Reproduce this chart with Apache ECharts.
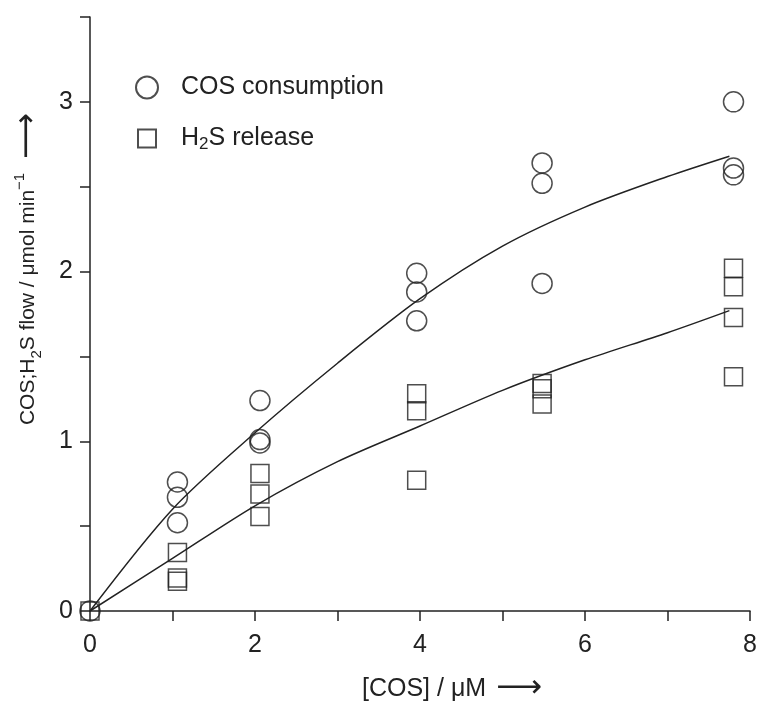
<!DOCTYPE html>
<html>
<head>
<meta charset="utf-8">
<script src="https://cdn.jsdelivr.net/npm/echarts@6/dist/echarts.min.js"></script>
<style>
  html, body { margin: 0; padding: 0; background: #fff; }
  #chart { width: 761px; height: 710px; }
</style>
</head>
<body>
<div id="chart"></div>
<script>
// measured points
var cosPoints = [
  [0, 0],
  [1.06, 0.76], [1.06, 0.67], [1.06, 0.52],
  [2.06, 1.24], [2.06, 1.01], [2.06, 0.99],
  [3.96, 1.99], [3.96, 1.88], [3.96, 1.71],
  [5.48, 2.64], [5.48, 2.52], [5.48, 1.93],
  [7.8, 3.0], [7.8, 2.61], [7.8, 2.57]
];
var h2sPoints = [
  [0, 0],
  [1.06, 0.345], [1.06, 0.195], [1.06, 0.175],
  [2.06, 0.81], [2.06, 0.69], [2.06, 0.557],
  [3.96, 1.28], [3.96, 1.18], [3.96, 0.77],
  [5.48, 1.34], [5.48, 1.31], [5.48, 1.22],
  [7.8, 2.02], [7.8, 1.91], [7.8, 1.73], [7.8, 1.38]
];
// fitted curves
var cosFit = [[0, 0], [1, 0.6], [2, 1.05], [3, 1.46], [4, 1.84], [5, 2.15], [6, 2.38], [7, 2.56], [7.75, 2.68]];
var h2sFit = [[0, 0], [1, 0.31], [2, 0.62], [3, 0.88], [4, 1.09], [5, 1.3], [6, 1.48], [7, 1.64], [7.75, 1.77]];

var xTicks = [0, 1, 2, 3, 4, 5, 6, 7, 8];
var xLabels = [0, 2, 4, 6, 8];
var yTicks = [0, 0.5, 1, 1.5, 2, 2.5, 3, 3.5];
var yLabels = [0, 1, 2, 3];

var ink = '#222';
var font = 'Liberation Sans';

var myChart = echarts.init(document.getElementById('chart'));
var option = {
  animation: false,
  textStyle: { fontFamily: font, color: ink },
  grid: { left: 90, right: 11, top: 17, bottom: 94 },
  legend: {
    orient: 'vertical',
    left: 130,
    top: 70,
    itemWidth: 22,
    itemHeight: 22,
    itemGap: 26,
    data: [
      { name: 'cos', icon: 'circle' },
      { name: 'h2s', icon: 'path://M0,0M2,2L20,2L20,20L2,20Z M22,22' }
    ],
    formatter: function (name) {
      return name === 'cos' ? '{a|COS consumption}' : '{a|H}{s|2}{a|S release}';
    },
    textStyle: {
      padding: [0, 0, 0, 18],
      rich: {
        a: { fontSize: 25, fontFamily: font, color: ink, lineHeight: 28 },
        s: { fontSize: 17, fontFamily: font, color: ink, verticalAlign: 'bottom', lineHeight: 20 }
      }
    }
  },
  xAxis: {
    type: 'value',
    min: 0,
    max: 8,
    interval: 1,
    name: '{a|[COS] / μM}{r|⟶}',
    nameLocation: 'middle',
    nameGap: 62,
    nameTextStyle: {
      padding: [0, 0, 0, 64],
      rich: {
        a: { fontSize: 25, fontFamily: font, color: ink },
        r: { fontSize: 32, fontFamily: 'DejaVu Sans', color: ink, padding: [0, 0, 0, 10] }
      }
    },
    axisLine: { lineStyle: { color: ink, width: 1.5 } },
    axisTick: { length: 10, lineStyle: { color: ink, width: 1.5 }, customValues: xTicks },
    axisLabel: { fontSize: 25, color: ink, margin: 22, customValues: xLabels },
    splitLine: { show: false }
  },
  yAxis: {
    type: 'value',
    min: 0,
    max: 3.5,
    interval: 0.5,
    name: '{a|COS;H}{s|2}{a|S flow / μmol min}{p|−1}{r|⟶}',
    nameLocation: 'middle',
    nameGap: 46,
    nameTextStyle: {
      padding: [0, 0, 0, 90],
      rich: {
        a: { fontSize: 21, fontFamily: font, color: ink, lineHeight: 28 },
        s: { fontSize: 15, fontFamily: font, color: ink, verticalAlign: 'bottom', lineHeight: 20 },
        p: { fontSize: 15, fontFamily: font, color: ink, verticalAlign: 'top', lineHeight: 20 },
        r: { fontSize: 32, fontFamily: 'DejaVu Sans', color: ink, padding: [0, 0, 0, 14] }
      }
    },
    axisLine: { show: true, lineStyle: { color: ink, width: 1.5 } },
    axisTick: { show: true, length: 10, lineStyle: { color: ink, width: 1.5 }, customValues: yTicks },
    axisLabel: { fontSize: 25, color: ink, margin: 17, customValues: yLabels },
    splitLine: { show: false }
  },
  series: [
    {
      name: 'cos',
      type: 'scatter',
      symbol: 'circle',
      symbolSize: 20,
      clip: false,
      itemStyle: { color: 'rgba(0,0,0,0)', borderColor: ink, borderWidth: 1.5 },
      data: cosPoints,
      z: 3
    },
    {
      name: 'h2s',
      type: 'scatter',
      symbol: 'rect',
      symbolSize: 18,
      clip: false,
      itemStyle: { color: 'rgba(0,0,0,0)', borderColor: ink, borderWidth: 1.5 },
      data: h2sPoints,
      z: 3
    },
    {
      name: 'cosFit',
      type: 'line',
      smooth: 0.3,
      showSymbol: false,
      symbol: 'none',
      lineStyle: { color: ink, width: 1.5 },
      data: cosFit,
      z: 2
    },
    {
      name: 'h2sFit',
      type: 'line',
      smooth: 0.3,
      showSymbol: false,
      symbol: 'none',
      lineStyle: { color: ink, width: 1.5 },
      data: h2sFit,
      z: 2
    }
  ]
};
myChart.setOption(option);
</script>
</body>
</html>
